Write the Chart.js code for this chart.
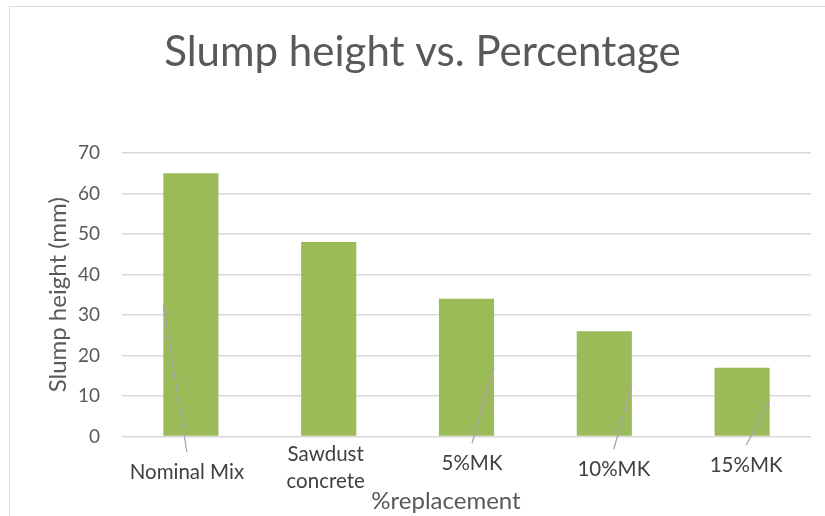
<!DOCTYPE html>
<html>
<head>
<meta charset="utf-8">
<script src="https://cdn.jsdelivr.net/npm/chart.js@4"></script>
<style>
    html, body { margin: 0; padding: 0; background: #fff; overflow: hidden; }
    #wrap { position: absolute; left: 0; top: 0; width: 825px; height: 516px; overflow: hidden; }
    #frame { position: absolute; left: 9px; top: 6px; width: 830px; height: 520px; border: 1px solid #d9d9d9; box-sizing: border-box; }
    canvas { position: absolute; left: 0; top: 0; }
</style>
</head>
<body>
<div id="wrap">
    <div id="frame"></div>
    <canvas id="slump" width="825" height="516"></canvas>
</div>
<script>
// slump test results
const categories = ['Nominal Mix', ['Sawdust', 'concrete'], '5%MK', '10%MK', '15%MK'];
const slumpHeights = [65, 48, 34, 26, 17];
const yMin = 0;
const yMax = 70;
const yStep = 10;

// where each category label sits, relative to the foot of its bar
const labelShift = [[-4, 36.5], [-3, 32], [5.5, 27.5], [9.5, 33.5], [4, 29.5]];
const showLeader = [true, false, true, true, true];

const fontFamily = 'Lato, "Open Sans", sans-serif';
const greyText = '#595959';

// category labels under the bars, with leader lines back to the bar middle
const categoryLabels = {
    id: 'categoryLabels',
    afterDatasetsDraw(chart) {
        let ctx = chart.ctx;
        let meta = chart.getDatasetMeta(0);
        let yScale = chart.scales.y;
        let lineH = 27;

        ctx.save();
        meta.data.forEach((bar, i) => {
            let cx = bar.x + labelShift[i][0];
            let cy = bar.base + labelShift[i][1];

            if (showLeader[i]) {
                let edge = labelShift[i][0] < 0 ? bar.x - bar.width / 2 : bar.x + bar.width / 2;
                let midY = yScale.getPixelForValue(slumpHeights[i] / 2);
                ctx.strokeStyle = '#a6a6a6';
                ctx.lineWidth = 1.25;
                ctx.beginPath();
                ctx.moveTo(cx, cy - 20);
                ctx.lineTo(edge, midY);
                ctx.stroke();
            }

            let lines = Array.isArray(categories[i]) ? categories[i] : [categories[i]];
            ctx.fillStyle = '#404040';
            ctx.font = '20.5px ' + fontFamily;
            ctx.textAlign = 'center';
            ctx.textBaseline = 'middle';
            lines.forEach((text, k) => {
                ctx.fillText(text, cx, cy + (k - (lines.length - 1) / 2) * lineH);
            });
        });

        // category axis title
        ctx.fillStyle = greyText;
        ctx.font = '24px ' + fontFamily;
        ctx.fillText('%replacement', 446, 501);
        ctx.restore();
    }
};

new Chart(document.getElementById('slump').getContext('2d'), {
    type: 'bar',
    data: {
        labels: categories,
        datasets: [{
            label: 'Slump height (mm)',
            data: slumpHeights,
            backgroundColor: '#9bbb59',
            borderWidth: 0,
            categoryPercentage: 1,
            barPercentage: 0.4
        }]
    },
    options: {
        responsive: false,
        animation: false,
        layout: {
            padding: { left: 34, right: 14, top: 0, bottom: 79.5 }
        },
        scales: {
            x: {
                display: false
            },
            y: {
                min: yMin,
                max: yMax,
                ticks: {
                    stepSize: yStep,
                    color: greyText,
                    padding: 22,
                    font: { family: fontFamily, size: 19 }
                },
                grid: {
                    color: '#d9d9d9',
                    lineWidth: 1.5,
                    drawTicks: false
                },
                border: { display: false },
                title: {
                    display: true,
                    text: 'Slump height (mm)',
                    color: greyText,
                    font: { family: fontFamily, size: 24 },
                    padding: { top: 9.6, bottom: 0 }
                },
                afterFit: scale => {
                    scale.width = 88;
                }
            }
        },
        plugins: {
            legend: { display: false },
            tooltip: { enabled: false },
            title: {
                display: true,
                text: 'Slump height vs. Percentage',
                color: greyText,
                font: { family: fontFamily, size: 42, weight: 'normal' },
                padding: { top: 26.8, bottom: 75.8 }
            }
        }
    },
    plugins: [categoryLabels]
});
</script>
</body>
</html>
